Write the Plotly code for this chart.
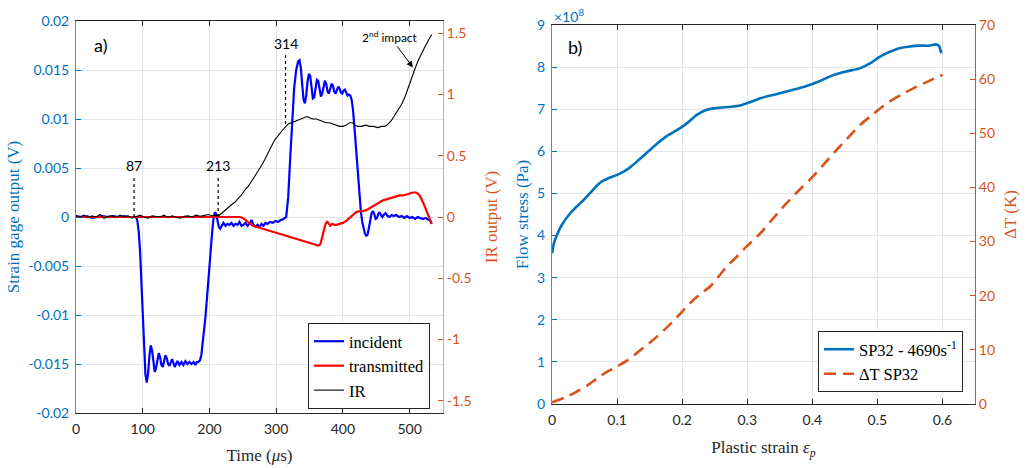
import plotly.graph_objects as go

# ---------------- Panel a) data ----------------
inc_t = [0, 8, 16, 24, 32, 40, 48, 56, 64, 72, 80, 87,
         90, 92, 94, 96, 98, 100, 102, 104, 106, 108, 110, 112, 114, 116, 118, 120, 122, 124, 126, 128, 130,
         132, 134, 136, 138, 140, 142, 144, 146, 148, 150, 152, 155, 158, 161, 164, 167, 170, 173, 176, 179,
         181, 183, 186, 188, 190, 192, 194, 196, 198, 200, 202, 204, 206, 208, 210, 212, 214, 216, 218,
         221, 224, 227, 230, 233, 236, 239, 242, 245, 248, 251, 254, 257, 260, 263, 266, 269, 272, 275, 278,
         281, 284, 287, 291, 295, 299, 303, 307, 311, 315,
         318, 321, 324, 327, 330, 333, 335, 337, 339, 341, 343, 345, 347, 349, 351, 353, 355, 357, 359, 361,
         363, 365, 367, 369, 371, 373, 375, 377, 379, 381, 383, 385, 387, 389, 391, 393, 395, 397, 399, 401,
         403, 405, 407, 409, 411, 413, 415, 417, 419, 421, 423, 425, 427, 429, 431, 433, 435, 437, 439, 441,
         443, 445, 447, 449, 451, 453, 455, 457, 459, 461, 464, 467, 470, 473, 476, 480, 484, 488, 492, 496,
         500, 504, 508, 512, 516, 520, 524, 528, 531, 533]
inc_v = [0.0001, 0.0000, 0.0001, -0.0001, 0.0000, 0.0001, 0.0000, 0.0001, 0.0000, 0.0001, 0.0000, 0.0000,
         0.0000, -0.0004, -0.0015, -0.0035, -0.0065, -0.0100, -0.0135, -0.0160, -0.0169, -0.0160, -0.0142,
         -0.0131, -0.0136, -0.0150, -0.0158, -0.0154, -0.0144, -0.0139, -0.0143, -0.0151, -0.0153,
         -0.0147, -0.0141, -0.0144, -0.0150, -0.0152, -0.0148, -0.0145, -0.0149, -0.0153, -0.0150, -0.0147,
         -0.0151, -0.0148, -0.0151, -0.0147, -0.0150, -0.0148, -0.0150, -0.0148, -0.0151,
         -0.0148, -0.0148, -0.0146, -0.0140, -0.0128, -0.0118, -0.0102, -0.0085, -0.0065, -0.0050, -0.0032,
         -0.0016, -0.0002, 0.0005, 0.0003, -0.0004, -0.0010, -0.0012, -0.0009,
         -0.0006, -0.0009, -0.0007, -0.0008, -0.0006, -0.0009, -0.0007, -0.0008, -0.0005, -0.0009, -0.0008,
         -0.0006, -0.0009, -0.0007, -0.0003, -0.0008, -0.0010, -0.0008, -0.0010, -0.0007,
         -0.0009, -0.0006, -0.0007, -0.0005, -0.0006, -0.0004, -0.0005, -0.0003, -0.0002, 0.0000,
         0.0020, 0.0060, 0.0100, 0.0132, 0.0150, 0.0159, 0.0160, 0.0152, 0.0135, 0.0120, 0.0116, 0.0124,
         0.0138, 0.0146, 0.0144, 0.0132, 0.0121, 0.0122, 0.0133, 0.0140,
         0.0139, 0.0130, 0.0123, 0.0126, 0.0135, 0.0139, 0.0136, 0.0128, 0.0126, 0.0131, 0.0136, 0.0134,
         0.0128, 0.0126, 0.0129, 0.0133, 0.0131, 0.0127, 0.0126, 0.0129,
         0.0130, 0.0127, 0.0124, 0.0125, 0.0124, 0.0120, 0.0110, 0.0094, 0.0075, 0.0055, 0.0036, 0.0019,
         0.0005, -0.0005, -0.0012, -0.0017, -0.0019, -0.0018, -0.0011, -0.0002,
         0.0004, 0.0006, 0.0003, -0.0002, -0.0001, 0.0003, 0.0005, 0.0002, 0.0000, 0.0002, 0.0004, 0.0001,
         0.0000, 0.0002, 0.0001, 0.0002, 0.0000, 0.0001, -0.0001, 0.0001,
         -0.0001, 0.0000, -0.0002, 0.0000, -0.0001, -0.0002, -0.0001, -0.0003, -0.0004, -0.0007]

tr_t = [0, 50, 100, 150, 200, 240, 245, 250, 255, 260, 265, 270, 275, 280, 285, 290, 295, 300, 305, 310, 315,
        320, 325, 330, 335, 340, 345, 350, 355, 358, 361, 364, 366, 368, 370, 372, 374, 376, 378, 381, 384,
        387, 390, 395, 400, 405, 410, 415, 420, 425, 430, 435, 440, 445, 450, 455, 460, 465, 470, 475, 480,
        485, 490, 495, 500, 505, 509, 512, 515, 518, 522, 526, 530, 533]
tr_v = [0.0000, 0.0000, 0.0000, 0.0000, 0.0000, 0.0000, 0.0000, -0.0001, -0.0004, -0.0007, -0.0009, -0.0010,
        -0.0011, -0.0012, -0.0013, -0.0014, -0.0015, -0.0016, -0.0017, -0.0018, -0.0019, -0.0020, -0.0021,
        -0.0022, -0.0023, -0.0024, -0.0025, -0.0026, -0.0027, -0.0028, -0.0029, -0.0029, -0.0028, -0.0024,
        -0.0018, -0.0012, -0.0007, -0.0005, -0.0006, -0.0009, -0.0007, -0.0008, -0.0008, -0.0007, -0.0006,
        -0.0004, -0.0001, 0.0003, 0.0005, 0.0006, 0.0006, 0.0007, 0.0009, 0.0011, 0.0013, 0.0015, 0.0017,
        0.0018, 0.0019, 0.0020, 0.0021, 0.0022, 0.0022, 0.0023, 0.0024, 0.0025, 0.0025, 0.0024, 0.0022,
        0.0018, 0.0012, 0.0005, -0.0002, -0.0007]

ir_t = [0, 6, 12, 18, 24, 30, 36, 42, 48, 54, 60, 66, 72, 78, 84, 90, 96, 102, 108, 114, 120, 126, 132,
        138, 144, 150, 156, 162, 168, 174, 180, 186, 192, 198, 204, 210,
        214, 218, 223, 228, 233, 238, 243, 248, 253, 258, 263, 268, 273, 278, 283, 288, 293, 298, 303, 308,
        313, 318, 323, 328, 333, 338, 343, 346, 350, 355, 360, 365, 370, 375, 380, 385, 390, 395, 400, 405,
        410, 414, 418, 422, 428, 434, 440, 446, 452, 458, 463, 468, 473, 478, 483, 488, 493, 498, 503, 508,
        513, 518, 523, 528, 533]
ir_v = [0.01, 0.00, 0.015, -0.005, 0.01, 0.00, 0.02, -0.01, 0.005, 0.01, -0.005, 0.015, 0.00, 0.01, -0.01,
        0.005, 0.015, 0.00, -0.01, 0.01, 0.005, 0.00, 0.015, -0.005, 0.01, 0.00, -0.01, 0.005, 0.01, 0.00,
        0.015, 0.005, 0.01, 0.02, 0.01, 0.015,
        0.01, 0.03, 0.05, 0.08, 0.10, 0.12, 0.15, 0.18, 0.22, 0.25, 0.29, 0.33, 0.38, 0.42, 0.47, 0.53, 0.58,
        0.63, 0.67, 0.70, 0.73, 0.76, 0.77, 0.78, 0.79, 0.80, 0.81, 0.82, 0.81, 0.80, 0.80, 0.79, 0.78, 0.77,
        0.77, 0.76, 0.75, 0.74, 0.74, 0.75, 0.77, 0.77, 0.75, 0.74, 0.74, 0.75, 0.74, 0.74, 0.73, 0.74, 0.74,
        0.76, 0.79, 0.83, 0.87, 0.92, 0.98, 1.06, 1.14, 1.21, 1.28, 1.34, 1.39, 1.44, 1.49]

event_times = [87, 213, 314]

strain_ticks = [-0.02, -0.015, -0.01, -0.005, 0, 0.005, 0.01, 0.015, 0.02]
strain_labels = ["-0.02", "-0.015", "-0.01", "-0.005", "0", "0.005", "0.01", "0.015", "0.02"]
ir_ticks = [-1.5, -1, -0.5, 0, 0.5, 1, 1.5]
ir_labels = ["-1.5", "-1", "-0.5", "0", "0.5", "1", "1.5"]

# ---------------- Panel b) data ----------------
strain_flow = [0, 0.003, 0.008, 0.015, 0.028, 0.040, 0.049, 0.061, 0.070, 0.077, 0.085, 0.100, 0.110, 0.120,
               0.135, 0.156, 0.175, 0.197, 0.210, 0.222, 0.235, 0.248, 0.260, 0.275, 0.289, 0.305, 0.320,
               0.340, 0.3605, 0.375, 0.391, 0.410, 0.432, 0.450, 0.473, 0.490, 0.504, 0.520, 0.534, 0.550,
               0.565, 0.580, 0.590, 0.595, 0.598]
flow_stress_e8 = [3.58, 3.82, 4.03, 4.25, 4.53, 4.72, 4.85, 5.05, 5.20, 5.29, 5.35, 5.44, 5.52, 5.62, 5.82,
                  6.11, 6.35, 6.55, 6.70, 6.86, 6.97, 7.02, 7.04, 7.06, 7.09, 7.17, 7.26, 7.34, 7.42, 7.48,
                  7.55, 7.66, 7.81, 7.89, 7.97, 8.10, 8.25, 8.37, 8.45, 8.49, 8.51, 8.51, 8.54, 8.50, 8.33]
strain_T = [0, 0.02, 0.038, 0.055, 0.069, 0.085, 0.0997, 0.115, 0.130, 0.145, 0.161, 0.177, 0.192, 0.205,
            0.217, 0.230, 0.243, 0.255, 0.2685, 0.284, 0.299, 0.320, 0.340, 0.3605, 0.378, 0.396, 0.415,
            0.437, 0.455, 0.473, 0.494, 0.514, 0.535, 0.555, 0.578, 0.600]
delta_T = [0.3, 1.2, 2.3, 3.5, 4.7, 6.0, 6.9, 8.0, 9.4, 10.8, 12.4, 14.2, 16.0, 17.7, 19.2, 20.5, 21.7, 23.4,
           25.4, 27.2, 29.1, 31.5, 34.3, 37.1, 39.3, 41.4, 43.9, 46.9, 49.2, 51.5, 53.6, 55.5, 57.0, 58.3,
           59.6, 60.8]

# ---------------- styling ----------------
BLUE_AX = "#0072BD"
ORANGE_AX = "#D95319"
DARK = "#262626"
GRID = "#E2E4E8"
TICKFONT = "Lato"
SERIF = "Liberation Serif"

fig = go.Figure()

fig.add_trace(go.Scatter(x=inc_t, y=inc_v, mode="lines", name="incident",
                         line=dict(color="#0000FF", width=2.2), xaxis="x", yaxis="y", legend="legend"))
fig.add_trace(go.Scatter(x=tr_t, y=tr_v, mode="lines", name="transmitted",
                         line=dict(color="#FF0000", width=2.2), xaxis="x", yaxis="y", legend="legend"))
fig.add_trace(go.Scatter(x=ir_t, y=ir_v, mode="lines", name="IR",
                         line=dict(color="#000000", width=1.1), xaxis="x", yaxis="y2", legend="legend"))

fig.add_trace(go.Scatter(x=strain_flow, y=flow_stress_e8, mode="lines",
                         name="SP32 - 4690s<sup>-1</sup>",
                         line=dict(color=BLUE_AX, width=2.6, shape="spline", smoothing=0.6),
                         xaxis="x2", yaxis="y3", legend="legend2"))
fig.add_trace(go.Scatter(x=strain_T, y=delta_T, mode="lines", name="\u0394T SP32",
                         line=dict(color=ORANGE_AX, width=2.6, dash="12px,7px", shape="spline", smoothing=0.6),
                         xaxis="x2", yaxis="y4", legend="legend2"))

# dotted event markers and labels (panel a)
event_bottoms = [0, 0, 0.0095]
event_tops = [0.0041, 0.0041, 0.0165]
for t, y0, y1 in zip(event_times, event_bottoms, event_tops):
    fig.add_shape(type="line", xref="x", yref="y", x0=t, x1=t, y0=y0, y1=y1,
                  line=dict(color="#000000", width=1.2, dash="dot"))
    fig.add_annotation(x=t, y=y1, xref="x", yref="y", text=str(t), showarrow=False,
                       yanchor="bottom", yshift=1, font=dict(family=TICKFONT, size=14, color="#000000"))

fig.add_annotation(x=505, y=1.22, xref="x", yref="y2", ax=471, ay=1.47, axref="x", ayref="y2",
                   text="2<sup>nd</sup> impact", showarrow=True, arrowhead=2, arrowsize=1.3, arrowwidth=1,
                   arrowcolor="#000000", font=dict(family=TICKFONT, size=12, color="#000000"))

fig.add_annotation(x=92 / 1031, y=1 - 45 / 468, xref="paper", yref="paper", text="a)", showarrow=False,
                   xanchor="left", yanchor="middle", font=dict(family=TICKFONT, size=18, color="#000000"))
fig.add_annotation(x=566 / 1031, y=1 - 47 / 468, xref="paper", yref="paper", text="b)", showarrow=False,
                   xanchor="left", yanchor="middle", font=dict(family=TICKFONT, size=18, color="#000000"))
fig.add_annotation(x=552 / 1031, y=1 - 16 / 468, xref="paper", yref="paper", text="\u00d710<sup>8</sup>",
                   showarrow=False, xanchor="left", yanchor="middle",
                   font=dict(family=TICKFONT, size=14, color=BLUE_AX))

common_x = dict(ticks="inside", ticklen=5, tickcolor=DARK, showline=True, linecolor=DARK, linewidth=1,
                mirror="ticks", showgrid=True, gridcolor=GRID, gridwidth=1, zeroline=False, automargin=False,
                ticklabelstandoff=3, tickfont=dict(family=TICKFONT, size=14, color=DARK))

fig.update_layout(
    width=1031, height=468, autosize=False,
    margin=dict(l=0, r=0, t=0, b=0),
    paper_bgcolor="white", plot_bgcolor="white",
    xaxis=dict(domain=[76 / 1031, 443 / 1031], range=[0, 550], dtick=100, anchor="y",
               title=dict(text="Time (<i>\u03bc</i>s)", font=dict(family=SERIF, size=17, color=DARK), standoff=13),
               **common_x),
    yaxis=dict(domain=[55 / 468, 447 / 468], range=[-0.02, 0.02], tickvals=strain_ticks, ticktext=strain_labels,
               anchor="x", ticks="inside", ticklen=5, tickcolor=BLUE_AX, showline=True, linecolor="#4A90C8",
               linewidth=1, showgrid=True, gridcolor=GRID, zeroline=False, automargin=False,
               ticklabelstandoff=3, tickfont=dict(family=TICKFONT, size=14, color=BLUE_AX),
               title=dict(text="Strain gage output (V)", font=dict(family=SERIF, size=17, color=BLUE_AX),
                          standoff=4)),
    yaxis2=dict(overlaying="y", side="right", anchor="x", range=[-1.6, 1.6], tickvals=ir_ticks,
                ticktext=ir_labels, ticks="inside", ticklen=5, tickcolor=ORANGE_AX, showline=True,
                linecolor="#E7A07C", linewidth=1, showgrid=False, zeroline=False, automargin=False,
                tickfont=dict(family=TICKFONT, size=14, color=ORANGE_AX),
                title=dict(text="IR output (V)", font=dict(family=SERIF, size=17, color=ORANGE_AX), standoff=14)),
    xaxis2=dict(domain=[552 / 1031, 975 / 1031], range=[0, 0.65], dtick=0.1, anchor="y3",
                title=dict(text="Plastic strain <i>\u03b5</i><sub><i>p</i></sub>",
                           font=dict(family=SERIF, size=17, color=DARK), standoff=14),
                **common_x),
    yaxis3=dict(domain=[64 / 468, 443 / 468], range=[0, 9], dtick=1, anchor="x2", ticks="inside", ticklen=5,
                tickcolor=BLUE_AX, showline=True, linecolor="#4A90C8", linewidth=1, showgrid=True,
                gridcolor=GRID, zeroline=False, automargin=False, ticklabelstandoff=3,
                tickfont=dict(family=TICKFONT, size=14, color=BLUE_AX),
                title=dict(text="Flow stress (Pa)", font=dict(family=SERIF, size=17, color=BLUE_AX), standoff=4)),
    yaxis4=dict(overlaying="y3", side="right", anchor="x2", range=[0, 70], dtick=10, ticks="inside",
                ticklen=5, tickcolor=ORANGE_AX, showline=True, linecolor=ORANGE_AX, linewidth=1,
                showgrid=False, zeroline=False, automargin=False,
                tickfont=dict(family=TICKFONT, size=14, color=ORANGE_AX),
                title=dict(text="\u0394T (K)", font=dict(family=SERIF, size=17, color=ORANGE_AX), standoff=10)),
    legend=dict(x=308 / 1031, y=1 - 323 / 468, xanchor="left", yanchor="top", bgcolor="white",
                bordercolor=DARK, borderwidth=1, font=dict(family=SERIF, size=16.5, color="#000000"),
                tracegroupgap=0, itemwidth=30),
    legend2=dict(x=818 / 1031, y=1 - 331 / 468, xanchor="left", yanchor="top", bgcolor="white",
                 bordercolor=DARK, borderwidth=1, font=dict(family=SERIF, size=16.5, color="#000000"),
                 tracegroupgap=0, itemwidth=30),
    showlegend=True,
)

fig.write_html("out.html", config={"displayModeBar": False},
               post_script="document.body.style.margin='0px';")
